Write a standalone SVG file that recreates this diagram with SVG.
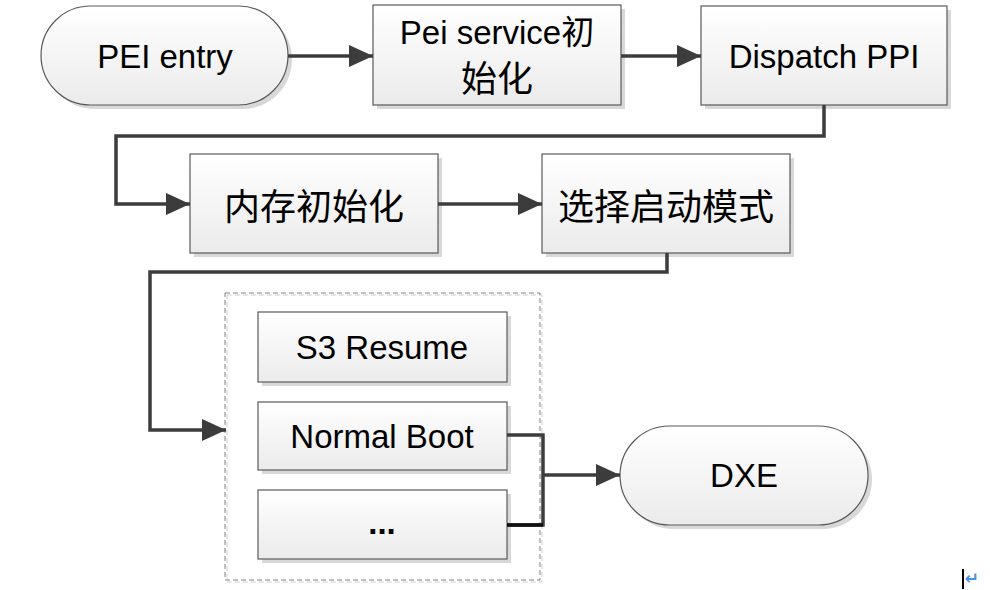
<svg xmlns="http://www.w3.org/2000/svg" width="990" height="590" viewBox="0 0 990 590">
<defs>
<linearGradient id="fill" x1="0" y1="0" x2="0" y2="1">
<stop offset="0" stop-color="#ffffff"/>
<stop offset="1" stop-color="#ebebeb"/>
</linearGradient>
<marker id="arr" markerUnits="userSpaceOnUse" markerWidth="26" markerHeight="24" refX="24" refY="12" orient="auto">
<path d="M0,1 L24,12 L0,23 z" fill="#3c3c3c"/>
</marker>
<style>
.shadow{fill:#d8d8d8;stroke:none}
.box{fill:url(#fill);stroke:#5a5a5a;stroke-width:1.2}
.t{font-family:"Liberation Sans","Noto Sans CJK SC",sans-serif;font-size:33px;fill:#000;text-anchor:middle;dominant-baseline:central}
.c{font-family:"Noto Sans CJK SC",sans-serif;font-size:36px;fill:#000;text-anchor:middle;dominant-baseline:central}
.conn{fill:none;stroke:#3c3c3c;stroke-width:3.5}
</style>
</defs>
<rect width="990" height="590" fill="#ffffff"/>

<g id="pei-entry">
<rect class="shadow" x="45" y="10" width="247" height="99" rx="49.5"/>
<rect class="box" x="41" y="6" width="247" height="99" rx="49.5"/>
<text class="t" x="165" y="56">PEI entry</text>
</g>

<g id="pei-service">
<rect class="shadow" x="377" y="9" width="248" height="100"/>
<rect class="box" x="373" y="5" width="248" height="100"/>
<text class="t" x="497" y="32">Pei service初</text>
<text class="c" x="497" y="76">始化</text>
</g>

<g id="dispatch-ppi">
<rect class="shadow" x="705" y="10" width="246" height="99"/>
<rect class="box" x="701" y="6" width="246" height="99"/>
<text class="t" x="824" y="56">Dispatch PPI</text>
</g>

<g id="mem-init">
<rect class="shadow" x="194" y="158" width="248" height="99"/>
<rect class="box" x="190" y="154" width="248" height="99"/>
<text class="c" x="314" y="204">内存初始化</text>
</g>

<g id="boot-mode">
<rect class="shadow" x="546" y="158" width="248" height="99"/>
<rect class="box" x="542" y="154" width="248" height="99"/>
<text class="c" x="666" y="204">选择启动模式</text>
</g>

<g id="boot-group">
<rect x="227" y="295" width="315" height="287" fill="none" stroke="#d0d0d0" stroke-width="1" stroke-dasharray="5,3"/>
<rect x="225" y="293" width="315" height="287" fill="none" stroke="#808080" stroke-width="1" stroke-dasharray="5,3"/>
</g>

<g id="s3-resume">
<rect class="shadow" x="262" y="316" width="249" height="70"/>
<rect class="box" x="258" y="312" width="249" height="70"/>
<text class="t" x="382" y="347">S3 Resume</text>
</g>

<g id="normal-boot">
<rect class="shadow" x="262" y="406" width="249" height="68"/>
<rect class="box" x="258" y="402" width="249" height="68"/>
<text class="t" x="382" y="436">Normal Boot</text>
</g>

<g id="other-boot">
<rect class="shadow" x="262" y="494" width="249" height="69"/>
<rect class="box" x="258" y="490" width="249" height="69"/>
<text class="t" x="382" y="522" font-weight="bold">...</text>
</g>

<g id="dxe">
<rect class="shadow" x="624" y="430" width="248" height="99" rx="49.5"/>
<rect class="box" x="620" y="426" width="248" height="99" rx="49.5"/>
<text class="t" x="744" y="475">DXE</text>
</g>

<g id="connectors">
<path class="conn" d="M288,56 H373" marker-end="url(#arr)"/>
<path class="conn" d="M621,56 H701" marker-end="url(#arr)"/>
<path class="conn" d="M824,105 V136 H116 V204 H190" marker-end="url(#arr)"/>
<path class="conn" d="M438,204 H542" marker-end="url(#arr)"/>
<path class="conn" d="M667,253 V272 H150 V430 H226" marker-end="url(#arr)"/>
<path class="conn" d="M507,435 H543 V525 H507" stroke-width="3"/>
<path d="M507,525 H543" fill="none" stroke="#111" stroke-width="3.5"/>
<path class="conn" d="M543,475 H620" marker-end="url(#arr)"/>
</g>

<g id="para-mark">
<line x1="963" y1="569" x2="963" y2="589" stroke="#000" stroke-width="2"/>
<text x="972" y="584" font-family="DejaVu Sans, sans-serif" font-size="17" font-weight="bold" fill="#4a90e2" text-anchor="middle">↵</text>
</g>
</svg>
